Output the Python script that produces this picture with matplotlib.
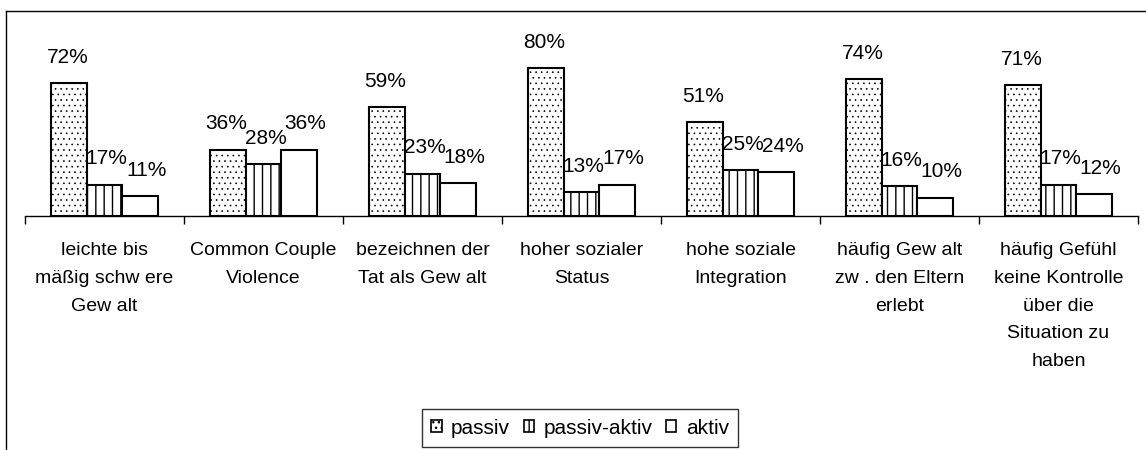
import matplotlib
matplotlib.use("Agg")
import matplotlib.pyplot as plt
import numpy as np
from matplotlib.lines import Line2D

plt.rcParams['font.family'] = ['Liberation Sans', 'DejaVu Sans']

categories = [
    "leichte bis\nmäßig schw ere\nGew alt",
    "Common Couple\nViolence",
    "bezeichnen der\nTat als Gew alt",
    "hoher sozialer\nStatus",
    "hohe soziale\nIntegration",
    "häufig Gew alt\nzw . den Eltern\nerlebt",
    "häufig Gefühl\nkeine Kontrolle\nüber die\nSituation zu\nhaben",
]
series_names = ["passiv", "passiv-aktiv", "aktiv"]
passiv = [72, 36, 59, 80, 51, 74, 71]
passiv_aktiv = [17, 28, 23, 13, 25, 16, 17]
aktiv = [11, 36, 18, 17, 24, 10, 12]

W, H = 1146, 450
fig = plt.figure(figsize=(W / 100, H / 100), dpi=100)
ax = fig.add_axes([25 / W, 1 - 216 / H, (1138 - 25) / W, (216 - 40) / H])

x = np.arange(len(categories))
bw = 0.226
hatches = ['...', '||', '']
hatch_lw = [0.45, 1.0, 1.0]
xshift_px = [-1, 2, 6]
for k, (vals, name) in enumerate(zip([passiv, passiv_aktiv, aktiv], series_names)):
    pos = x + (k - 1) * bw
    with plt.rc_context({'hatch.linewidth': hatch_lw[k]}):
        bars = ax.bar(pos, vals, width=bw, color='white', edgecolor='black',
                      linewidth=1.5, hatch=hatches[k], label=name, zorder=3)
    for b, v in zip(bars, vals):
        ax.annotate(f"{v}%", (b.get_x() + b.get_width() / 2, b.get_height()),
                    xytext=(xshift_px[k] * 0.72, 14.5), textcoords='offset points',
                    ha='center', va='baseline', fontsize=15)

ax.set_xlim(-0.5, len(categories) - 0.5)
ax.set_ylim(0, (216 - 40) / 1.845)
ax.set_xticks(x)
ax.set_xticklabels(categories, fontsize=14, linespacing=1.84)
ax.tick_params(axis='x', which='major', length=0, pad=18.5)
ax.set_xticks(np.arange(-0.5, len(categories), 1.0), minor=True)
ax.tick_params(axis='x', which='minor', length=6, width=1, color='black', direction='out')
ax.set_yticks([])
for s in ['left', 'right', 'top']:
    ax.spines[s].set_visible(False)
ax.spines['bottom'].set_linewidth(1.0)
ax.spines['bottom'].set_color('black')

# outer chart frame (left and top edges visible)
fig.add_artist(Line2D([6 / W, 6 / W], [0, 1 - 11 / H], transform=fig.transFigure,
                      color='black', lw=1.0))
fig.add_artist(Line2D([6 / W, 1], [1 - 11 / H, 1 - 11 / H], transform=fig.transFigure,
                      color='black', lw=1.0))

leg = fig.legend(loc='center', bbox_to_anchor=(580 / W, 1 - 428 / H), ncol=3,
                 frameon=True, fancybox=False, edgecolor='black', fontsize=15,
                 handlelength=0.5, handleheight=0.5, handletextpad=0.45,
                 columnspacing=0.65, borderpad=0.45, borderaxespad=0)
leg.get_frame().set_linewidth(1.0)
for h in leg.legend_handles:
    h.set_linewidth(1.2)

fig.savefig("out.png", dpi=100)
